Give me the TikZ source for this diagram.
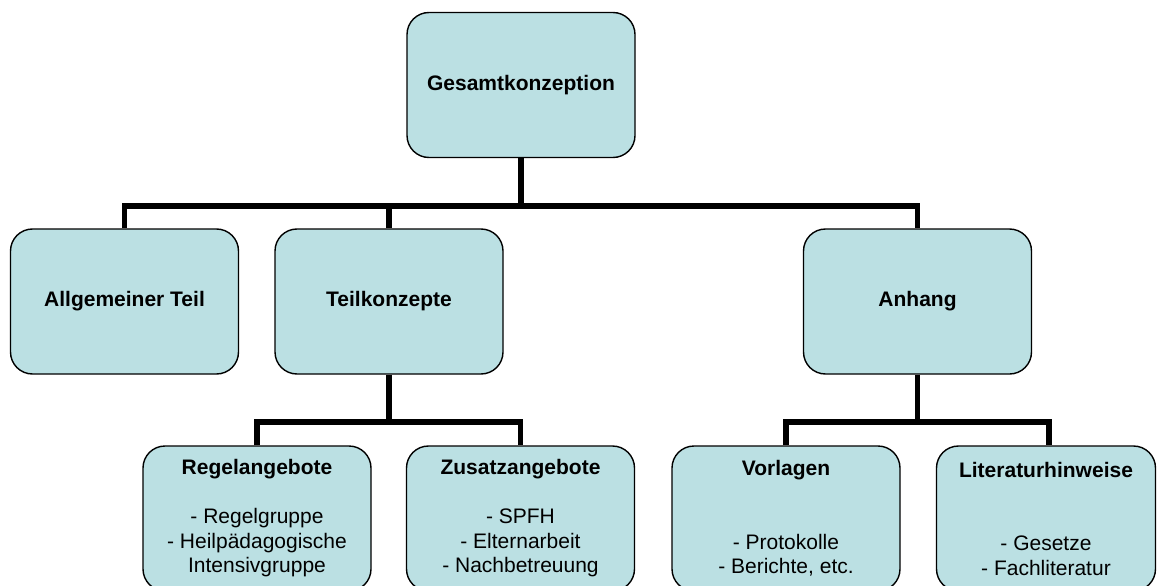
\documentclass[tikz,border=0pt]{standalone}
\usepackage{fontspec}
\setmainfont{Liberation Sans}
\definecolor{boxfill}{HTML}{BBE0E3}

\begin{document}
\begin{tikzpicture}[x=1pt, y=-1pt,
  box/.style={draw, line width=1.4pt, fill=boxfill, rounded corners=22pt,
    minimum width=228pt, minimum height=145pt, align=center,
    font=\fontsize{21}{24.5}\selectfont},
  conn/.style={line width=5.5pt}]

\useasboundingbox (0,0) rectangle (1157,586);
\clip (0,0) rectangle (1157,586);

% bar heights
\coordinate (bar1) at (0,206);
\coordinate (bar2) at (0,422);

\node[box] (gesamt) at (521,85) {\textbf{Gesamtkonzeption}};

\node[box] (allg) at (124.5,301.5) {\textbf{Allgemeiner Teil}};
\node[box] (teil) at (389,301.5) {\textbf{Teilkonzepte}};
\node[box] (anh) at (917.5,301.5) {\textbf{Anhang}};

\node[box] (regel) at (257,518.5) {\textbf{Regelangebote}\\ \mbox{}\\ - Regelgruppe\\ - Heilpädagogische\\ Intensivgruppe};
\node[box] (zusatz) at (520.5,518.5) {\textbf{Zusatzangebote}\\ \mbox{}\\ - SPFH\\ - Elternarbeit\\ - Nachbetreuung};
\node[box] (vorl) at (786,518.5) {\textbf{Vorlagen}\\ \mbox{}\\ \mbox{}\\ - Protokolle\\ - Berichte, etc.};
\node[box, minimum width=219pt] (lit) at (1046,518.5) {\textbf{Literaturhinweise}\\ \mbox{}\\ \mbox{}\\ - Gesetze\\ - Fachliteratur};

% connectors
\draw[conn] (gesamt.south) -- (gesamt |- bar1);
\draw[conn] (allg.north) |- (teil |- bar1) -| (anh.north);
\draw[conn] (teil.north) -- (teil |- bar1);

\draw[conn] (teil.south) -- (teil |- bar2);
\draw[conn] (regel.north) |- (teil |- bar2) -| (zusatz.north);

\draw[conn] (anh.south) -- (anh |- bar2);
\draw[conn] (vorl.north) |- (anh |- bar2) -| ([xshift=3pt]lit.north);

\end{tikzpicture}
\end{document}
